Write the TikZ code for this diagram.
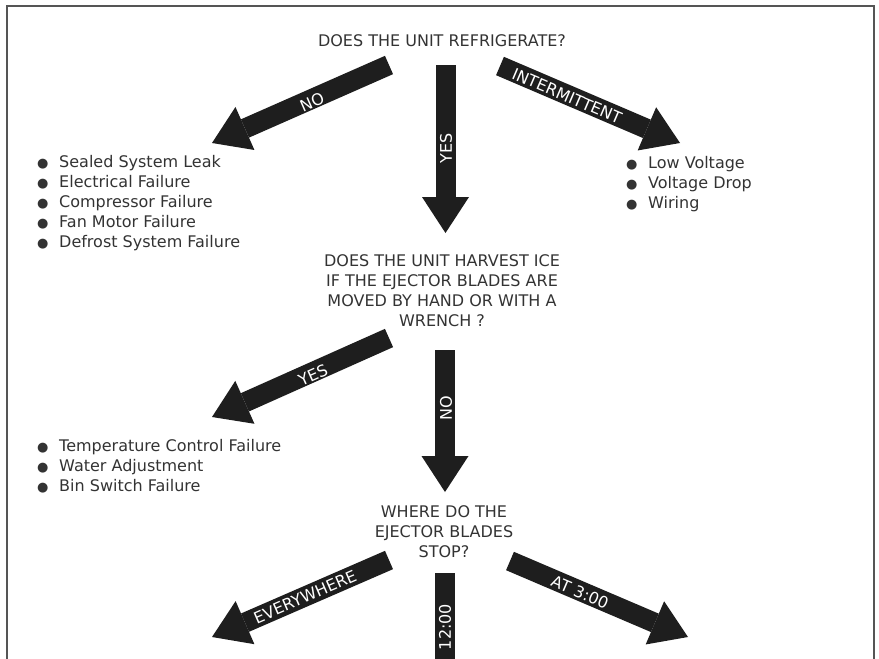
\documentclass[tikz,border=0pt]{standalone}
\usepackage{fontspec}
\setmainfont{DejaVu Sans}
\usetikzlibrary{arrows.meta}
\definecolor{txt}{HTML}{333333}
\definecolor{arr}{HTML}{1E1E1E}
\definecolor{framec}{HTML}{555555}
\newcommand\bul{\makebox[22pt][l]{\fontsize{13}{13}\selectfont ●}}
\tikzset{
  question/.style={align=center, text=txt, font=\fontsize{16}{20}\selectfont, inner sep=0pt},
  itemlist/.style={align=left, text=txt, font=\fontsize{16}{20}\selectfont, inner sep=0pt, anchor=west},
  blockarrow/.style={draw=arr, line width=20pt, line cap=butt,
    -{Triangle[width=47pt,length=36pt,line width=0pt]}},
  blockbar/.style={draw=arr, line width=20pt, line cap=butt},
  arrowlabel/.style={text=white, font=\fontsize{16}{16}\selectfont, inner sep=0pt},
  framestyle/.style={draw=framec, line width=2pt}
}
\begin{document}
\begin{tikzpicture}[x=1pt,y=-1pt]
\useasboundingbox (0,0) rectangle (879,659);
\clip (0,0) rectangle (879,659);
% frame
\draw[framestyle] (7,670) -- (7,6) -- (874,6) -- (874,670);

% questions
\node[question] (q1) at (442,41) {DOES THE UNIT REFRIGERATE?};
\node[question] (q2) at (442,291) {DOES THE UNIT HARVEST ICE\\IF THE EJECTOR BLADES ARE\\MOVED BY HAND OR WITH A\\WRENCH ?};
\node[question] (q3) at (444,532) {WHERE DO THE\\EJECTOR BLADES\\STOP?};

% lists
\node[itemlist] (l1) at (37,203.5) {\bul Sealed System Leak\\\bul Electrical Failure\\\bul Compressor Failure\\\bul Fan Motor Failure\\\bul Defrost System Failure};
\node[itemlist] (l2) at (626,184.5) {\bul Low Voltage\\\bul Voltage Drop\\\bul Wiring};
\node[itemlist] (l3) at (37,466.5) {\bul Temperature Control Failure\\\bul Water Adjustment\\\bul Bin Switch Failure};

% arrow end points
\coordinate (a1s) at (389,65);  \coordinate (a1e) at (212,143);
\coordinate (a2s) at (445.5,65); \coordinate (a2e) at (445.5,233);
\coordinate (a3s) at (500,66);  \coordinate (a3e) at (680,143);
\coordinate (b1s) at (389,338); \coordinate (b1e) at (212,417);
\coordinate (b2s) at (445,350); \coordinate (b2e) at (445,492);
\coordinate (c1s) at (389,560); \coordinate (c1e) at (212,637);
\coordinate (c2s) at (445,573); \coordinate (c2e) at (445,670);
\coordinate (c3s) at (510,561); \coordinate (c3e) at (688,637);

\draw[blockarrow] (a1s) -- (a1e);
\draw[blockarrow] (a2s) -- (a2e);
\draw[blockarrow] (a3s) -- (a3e);
\draw[blockarrow] (b1s) -- (b1e);
\draw[blockarrow] (b2s) -- (b2e);
\draw[blockarrow] (c1s) -- (c1e);
\draw[blockbar]   (c2s) -- (c2e);
\draw[blockarrow] (c3s) -- (c3e);

% arrow labels
\node[arrowlabel, rotate=23.8] (n1) at (312,102) {NO};
\node[arrowlabel, rotate=90] (n2) at (446,148) {YES};
\node[arrowlabel, rotate=-23.2] (n3) at (567,96) {INTERMITTENT};
\node[arrowlabel, rotate=24] (n4) at (313,375) {YES};
\node[arrowlabel, rotate=90] (n5) at (446,408) {NO};
\node[arrowlabel, rotate=23.5] (n6) at (305,597) {EVERYWHERE};
\node[arrowlabel, rotate=90] (n7) at (445,627) {12:00};
\node[arrowlabel, rotate=-23.1] (n8) at (580,592) {AT 3:00};
\end{tikzpicture}
\end{document}
